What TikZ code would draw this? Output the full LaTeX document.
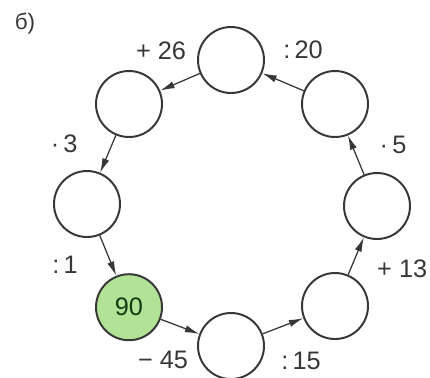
\documentclass[tikz,border=0pt]{standalone}
\usepackage{fontspec}
\setmainfont{Liberation Sans}
\usepackage{xcolor}
\usepackage{tikz}
\usetikzlibrary{arrows.meta,positioning}
\definecolor{ringgreen}{RGB}{178,226,150}
\definecolor{inkgray}{RGB}{55,55,55}

\begin{document}
\begin{tikzpicture}[thick]
  \tikzstyle{slot} = [circle, draw=inkgray, line width=1.4pt, minimum size=1.65cm, inner sep=0pt]
  \tikzstyle{start} = [slot, fill=ringgreen, text=inkgray!70!green!50!black]
  \tikzstyle{op} = [text=inkgray, font=\fontsize{18}{20}\selectfont]
  \tikzstyle{flow} = [draw=inkgray, line width=0.9pt, -{Latex[length=3.6mm,width=1.8mm]}]

  \useasboundingbox (-5.775,-4.325) rectangle (4.975,5.1);

  \node[op, font=\fontsize{16}{18}\selectfont] (tag) at (-5.15,4.5) {б)};

  % ring of eight circles
  \node[slot] (top) at (0,3.6) {};
  \node[slot] (ur) at (2.6,2.5) {};
  \node[slot] (right) at (3.65,-0.05) {};
  \node[slot] (lr) at (2.6,-2.55) {};
  \node[slot] (bottom) at (0,-3.55) {};
  \node[start] (green) at (-2.55,-2.58) {\fontsize{18}{20}\selectfont 90};
  \node[slot] (left) at (-3.6,0) {};
  \node[slot] (ul) at (-2.55,2.5) {};

  % operations
  \node[op] (l26) at (-1.75,3.83) {+ 26};
  \node[op] (l20) at (1.8,3.85) {:\,20};
  \node[op] (l5) at (4.05,1.48) {·\,5};
  \node[op] (l13) at (4.28,-1.62) {+ 13};
  \node[op] (l15) at (1.75,-3.93) {:\,15};
  \node[op] (l45) at (-1.7,-3.9) {− 45};
  \node[op] (l1) at (-4.15,-1.52) {:\,1};
  \node[op] (l3) at (-4.17,1.5) {·\,3};

  \draw[flow] (green) -- (bottom);
  \draw[flow] (bottom) -- (lr);
  \draw[flow] (lr) -- (right);
  \draw[flow] (right) -- (ur);
  \draw[flow] (ur) -- (top);
  \draw[flow] (top) -- (ul);
  \draw[flow] (ul) -- (left);
  \draw[flow] (left) -- (green);
\end{tikzpicture}
\end{document}
